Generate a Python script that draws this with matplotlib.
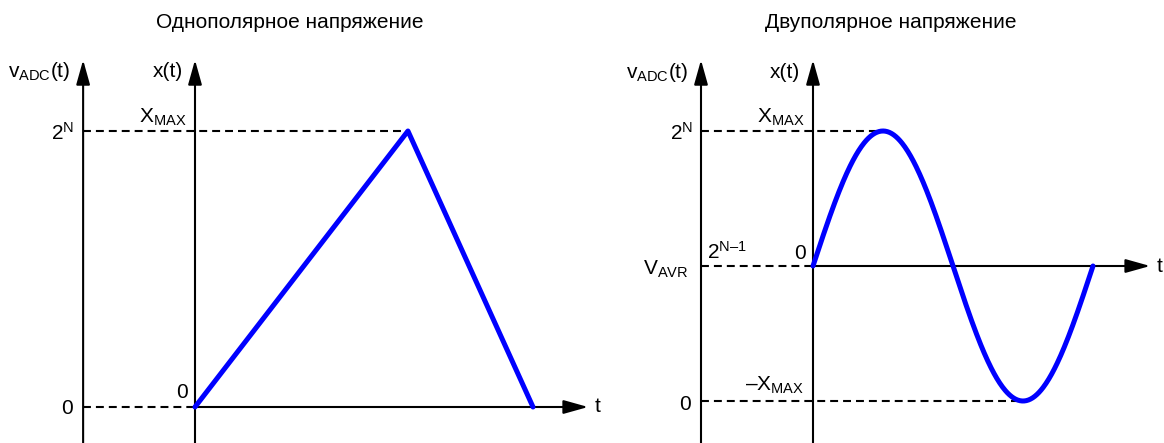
import numpy as np
import matplotlib.pyplot as plt

plt.rcParams['font.family'] = ['Liberation Sans', 'DejaVu Sans']
plt.rcParams['mathtext.fontset'] = 'custom'
plt.rcParams['mathtext.rm'] = 'Liberation Sans'
plt.rcParams['mathtext.it'] = 'Liberation Sans'

# unipolar signal: ramp up to X_MAX then down to 0
uni_t = [0.0, 0.63, 1.0]
uni_x = [0.0, 1.0, 0.0]

# bipolar signal: one period of a sine around V_AVR
bi_period = 1.0
bi_amp = 1.0
bi_t = np.linspace(0.0, bi_period, 400)
bi_x = bi_amp * np.sin(2 * np.pi * bi_t / bi_period)

titles = ['Однополярное напряжение', 'Двуполярное напряжение']

W, H = 1164, 443
FS = 15
BLUE = '#0000ff'


def make_axes(fig, px0, py0, sx, sy):
    # invisible axes; data (0,0) sits at pixel (px0, py0)
    ax = fig.add_axes([0, 0, 1, 1])
    ax.set_xlim(-px0 / sx, (W - px0) / sx)
    ax.set_ylim((py0 - H) / sy, py0 / sy)
    ax.axis('off')
    return ax


def arrow(ax, start, tip):
    ax.annotate('', xy=tip, xytext=start, annotation_clip=False,
                arrowprops=dict(arrowstyle='-|>,head_length=1.5,head_width=0.42',
                                color='k', lw=1.5, shrinkA=0, shrinkB=0,
                                mutation_scale=10))


def dashed(ax, t0, t1, y):
    ax.plot([t0, t1], [y, y], color='k', lw=1.5, ls=(0, (3.8, 2.4)), zorder=2)


def label(ax, x, y, s, ha='right', va='baseline'):
    ax.text(x, y, s, fontsize=FS, ha=ha, va=va)


fig = plt.figure(figsize=(W / 100, H / 100), dpi=100)

# ---- left panel: unipolar ----
ax = make_axes(fig, 195, 407, 338, 276)
bot, top = (407 - H) / 276, (407 - 60) / 276
v_axis = -0.331
arrow(ax, (v_axis, bot), (v_axis, top))
arrow(ax, (0, bot), (0, top))
arrow(ax, (0, 0), (1.163, 0))
dashed(ax, v_axis, uni_t[1], uni_x[1])
dashed(ax, v_axis, 0, 0)
ax.plot(uni_t, uni_x, color=BLUE, lw=3.6, solid_capstyle='round',
        solid_joinstyle='round', zorder=5, clip_on=False)
label(ax, -0.370, 1.214, r'$\mathregular{v_{ADC}(t)}$', va='center')
label(ax, -0.036, 1.214, 'x(t)', va='center')
label(ax, -0.024, 1.029, r'$\mathregular{X_{MAX}}$')
label(ax, -0.358, 0.967, r'$\mathregular{2^{N}}$')
label(ax, -0.361, -0.025, '0')
label(ax, -0.021, 0.033, '0')
label(ax, 1.183, 0, 't', ha='left', va='center')

# ---- right panel: bipolar ----
ax = make_axes(fig, 813, 266, 280, 135)
bot, top = (266 - H) / 135, (266 - 60) / 135
v_axis = -0.4
arrow(ax, (v_axis, bot), (v_axis, top))
arrow(ax, (0, bot), (0, top))
arrow(ax, (0, 0), (1.204, 0))
dashed(ax, v_axis, bi_period / 4, bi_amp)
dashed(ax, v_axis, 0, 0)
dashed(ax, v_axis, 3 * bi_period / 4, -bi_amp)
ax.plot(bi_t, bi_x, color=BLUE, lw=3.6, solid_capstyle='round', zorder=5,
        clip_on=False)
label(ax, -0.446, 1.437, r'$\mathregular{v_{ADC}(t)}$', va='center')
label(ax, -0.046, 1.437, 'x(t)', va='center')
label(ax, -0.032, 1.059, r'$\mathregular{X_{MAX}}$')
label(ax, -0.429, 0.933, r'$\mathregular{2^{N}}$')
label(ax, -0.446, -0.067, r'$\mathregular{V_{AVR}}$')
label(ax, -0.379, 0.052, '$\\mathregular{2^{N–1}}$', ha='left')
label(ax, -0.025, 0.052, '0')
label(ax, -0.032, -0.926, '$\\mathregular{–X_{MAX}}$')
label(ax, -0.436, -1.067, '0')
label(ax, 1.229, 0, 't', ha='left', va='center')

fig.text(290 / W, 1 - 23 / H, titles[0], fontsize=FS, ha='center', va='center')
fig.text(891 / W, 1 - 23 / H, titles[1], fontsize=FS, ha='center', va='center')

fig.savefig('out.png', dpi=100)
